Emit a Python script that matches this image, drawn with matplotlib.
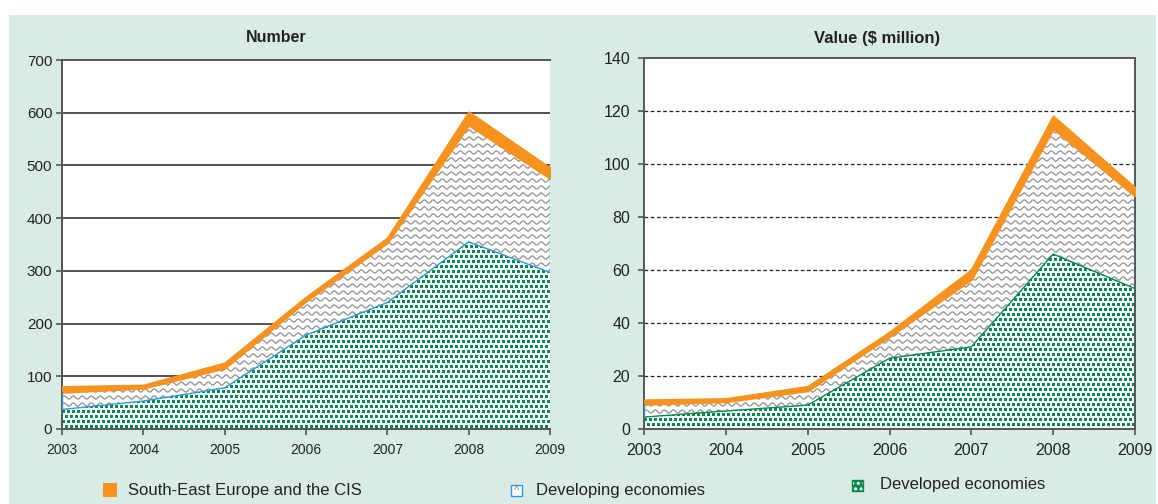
import numpy as np
import matplotlib
matplotlib.use('Agg')
import matplotlib.pyplot as plt
from matplotlib.patches import Rectangle

plt.rcParams['font.family'] = ['Liberation Sans', 'DejaVu Sans']

years = [2003, 2004, 2005, 2006, 2007, 2008, 2009]

# Number of deals
num_developed = [37, 53, 78, 178, 240, 355, 297]
num_developing = [33, 25, 38, 65, 114, 222, 179]
num_see = [10, 5, 9, 7, 8, 24, 19]

# Value ($ million)
val_developed = [4.5, 6.8, 9, 26.7, 31, 66, 53]
val_developing = [4.9, 3.6, 5.5, 8.3, 25.5, 47.5, 35]
val_see = [1.5, 1.0, 1.5, 1.5, 3.5, 4.5, 3]

legend_labels = ['South-East Europe and the CIS', 'Developing economies', 'Developed economies']

bg = '#d9ece3'
orange = '#f7921e'
green = '#00894d'
blue = '#2a9ad8'
wave_gray = '#8f8f8f'


def add_waves(ax, coll, w_px, h_px):
    # wavy hatch drawn as sine lines, clipped to the filled area
    path = coll.get_paths()[0]
    xs = np.linspace(0, 1, 1500)
    period = 9.0 / w_px
    amp = 1.6 / h_px
    step = 7.0 / h_px
    for y0 in np.arange(step / 2, 1, step):
        ln, = ax.plot(xs, y0 + amp * np.sin(2 * np.pi * xs / period),
                      color=wave_gray, lw=0.9, transform=ax.transAxes, zorder=2)
        ln.set_clip_path(path, ax.transData)


def add_dots(ax, coll, w_px, h_px, ymax):
    # pixel pattern of green squares, clipped to the filled area
    path = coll.get_paths()[0]
    img = np.ones((h_px, w_px, 4))
    rgb = matplotlib.colors.to_rgb(green)
    yy, xx = np.mgrid[0:h_px, 0:w_px]
    band = (yy // 5) % 2
    mask = ((yy % 5) < 3) & (((xx + band * 2) % 5) < 3)
    img[mask, 0] = rgb[0]
    img[mask, 1] = rgb[1]
    img[mask, 2] = rgb[2]
    im = ax.imshow(img, extent=[years[0], years[-1], 0, ymax], aspect='auto',
                   interpolation='nearest', origin='upper', zorder=2)
    im.set_clip_path(path, ax.transData)


def draw_panel(ax, developed, developing, see, ymax, ystep, dashed, line_col, w_px, h_px):
    dev = np.array(developed, dtype=float)
    dvg = dev + np.array(developing)
    tot = dvg + np.array(see)

    c1 = ax.fill_between(years, 0, dev, facecolor='white', edgecolor='none', zorder=1)
    add_dots(ax, c1, w_px, h_px, ymax)
    c2 = ax.fill_between(years, dev, dvg, facecolor='white', edgecolor='none', zorder=1)
    add_waves(ax, c2, w_px, h_px)
    ax.fill_between(years, dvg, tot, facecolor=orange, edgecolor=orange, lw=1.8, zorder=3)
    ax.plot(years, dev, color=line_col, lw=1.0, zorder=4)
    ax.plot([years[0], years[0]], [dev[0], dvg[0]], color=blue, lw=1.0, zorder=4)
    ax.plot([years[-1], years[-1]], [dev[-1], dvg[-1]], color=blue, lw=1.0, zorder=4)

    ax.set_xlim(years[0], years[-1])
    ax.set_ylim(0, ymax)
    ax.set_xticks(years)
    ax.set_yticks(np.arange(0, ymax + 1, ystep))
    for v in np.arange(ystep, ymax, ystep):
        if dashed:
            ax.axhline(v, color='#222222', lw=0.9, ls=(0, (3, 2)), zorder=0)
        else:
            ax.axhline(v, color='#333333', lw=1.2, zorder=0)
    ax.set_facecolor('white')
    ax.tick_params(direction='out', length=4, color='#555555', width=1.2)


fig = plt.figure(figsize=(11.58, 5.04), dpi=100)
fig.add_artist(Rectangle((9 / 1158, 0), 1 - 11 / 1158, 1 - 15 / 504,
                         transform=fig.transFigure, facecolor=bg, edgecolor='none', zorder=-10))

ax1 = fig.add_axes([62 / 1158, 75 / 504, 488 / 1158, 369 / 504])
ax2 = fig.add_axes([644 / 1158, 75 / 504, 491 / 1158, 371 / 504])

draw_panel(ax1, num_developed, num_developing, num_see, 700, 100, False, blue, 488, 369)
draw_panel(ax2, val_developed, val_developing, val_see, 140, 20, True, green, 491, 371)

for sp in ['left', 'bottom', 'top']:
    ax1.spines[sp].set_color('#555555')
    ax1.spines[sp].set_linewidth(1.4)
ax1.spines['right'].set_visible(False)
ax1.tick_params(axis='y', labelsize=11, labelcolor='#222222', pad=3)
ax1.tick_params(axis='x', labelsize=10, labelcolor='#222222', pad=6)

for sp in ['left', 'bottom', 'top', 'right']:
    ax2.spines[sp].set_color('#555555')
    ax2.spines[sp].set_linewidth(1.4)
ax2.tick_params(axis='y', labelsize=11.5, labelcolor='#222222', pad=6)
ax2.tick_params(axis='x', labelsize=11.5, labelcolor='#222222', pad=6)

fig.text(276 / 1158, 1 - 38 / 504, 'Number', ha='center', va='center',
         fontsize=11.5, fontweight='bold', color='#222222')
fig.text(877 / 1158, 1 - 38 / 504, 'Value ($ million)', ha='center', va='center',
         fontsize=12, fontweight='bold', color='#222222')

# legend
fig.add_artist(Rectangle((103 / 1158, 1 - 497 / 504), 14 / 1158, 14 / 504,
                         transform=fig.transFigure, facecolor=orange, edgecolor='none'))
fig.text(128 / 1158, 1 - 490 / 504, legend_labels[0], ha='left', va='center',
         fontsize=12, color='#222222')

fig.add_artist(Rectangle((511 / 1158, 1 - 496 / 504), 11 / 1158, 11 / 504,
                         transform=fig.transFigure, facecolor='white', edgecolor=blue,
                         lw=1.0))
fig.text(516.5 / 1158, 1 - 491 / 504, '^', ha='center', va='center',
         fontsize=8, color='#777777')
fig.text(536 / 1158, 1 - 490 / 504, legend_labels[1], ha='left', va='center',
         fontsize=12, color='#222222')

plt.rcParams['hatch.linewidth'] = 1.5
fig.add_artist(Rectangle((852 / 1158, 1 - 491 / 504), 11 / 1158, 11 / 504,
                         transform=fig.transFigure, facecolor=green, edgecolor='white',
                         hatch='...', lw=0))
fig.add_artist(Rectangle((852 / 1158, 1 - 491 / 504), 11 / 1158, 11 / 504,
                         transform=fig.transFigure, facecolor='none', edgecolor=green,
                         lw=1.0))
fig.text(880 / 1158, 1 - 485 / 504, legend_labels[2], ha='left', va='center',
         fontsize=12, color='#222222')

fig.savefig('out.png', dpi=100, facecolor='white')
